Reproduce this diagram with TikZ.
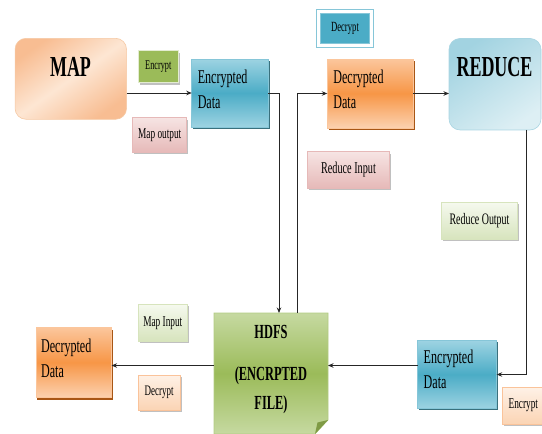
\documentclass[tikz,border=0pt]{standalone}
\usepackage{fontspec}
\setmainfont{Liberation Serif}[FakeStretch=0.62]
\usetikzlibrary{arrows.meta,shadows,backgrounds,calc}

% palette
\definecolor{blueMid}{HTML}{4BACC6}
\definecolor{blueLt}{HTML}{9DD3E2}
\definecolor{blueEdge}{HTML}{86C6D8}
\definecolor{blueDark}{HTML}{24606F}
\definecolor{orgMid}{HTML}{F79646}
\definecolor{orgLt}{HTML}{FBC69C}
\definecolor{orgDark}{HTML}{A34D08}
\definecolor{mapA}{HTML}{F8BD92}
\definecolor{mapB}{HTML}{FDE6D3}
\definecolor{mapEdge}{HTML}{F6C9A4}
\definecolor{redA}{HTML}{A2D3E1}
\definecolor{redB}{HTML}{DDEFF4}
\definecolor{redEdge}{HTML}{A9D5E2}
\definecolor{grnMid}{HTML}{9BBB59}
\definecolor{grnLt}{HTML}{C6D9A1}
\definecolor{grnEdge}{HTML}{B2CB82}
\definecolor{grnFold}{HTML}{7F9A45}
\definecolor{pinkTop}{HTML}{F6E4E3}
\definecolor{pinkBot}{HTML}{E6B9B8}
\definecolor{lgTop}{HTML}{F5F9EE}
\definecolor{lgBot}{HTML}{D7E4BD}
\definecolor{pchTop}{HTML}{FEF1E6}
\definecolor{pchBot}{HTML}{FBD4B4}
\definecolor{pchEdge}{HTML}{FAC39A}
\definecolor{lineClr}{HTML}{262626}

\begin{document}
\begin{tikzpicture}[x=1pt,y=-1pt,
  every node/.style={inner sep=0pt, outer sep=0pt, text=black},
  softshadow/.style={drop shadow={shadow xshift=1.6pt,shadow yshift=-1.8pt,fill=black!45,opacity=.55}},
  mapbox/.style={rectangle, rounded corners=11pt, draw=mapEdge, line width=.6pt,
    top color=mapA, bottom color=mapA, middle color=mapB, shading angle=35},
  redbox/.style={rectangle, rounded corners=11pt, draw=redEdge, line width=.6pt,
    top color=redA, bottom color=redB, shading angle=35},
  bluebox/.style={rectangle, draw=blueEdge, line width=.6pt,
    top color=blueLt, bottom color=blueLt, middle color=blueMid,
    drop shadow={shadow xshift=1.5pt,shadow yshift=-1.8pt,fill=blueDark,opacity=.9}},
  orgbox/.style={rectangle, draw=orgLt, line width=.6pt,
    top color=orgLt, bottom color=orgLt!80, middle color=orgMid,
    drop shadow={shadow xshift=1.2pt,shadow yshift=-2.2pt,fill=orgDark,opacity=.95}},
  boxtxt/.style={anchor=base west, font=\fontsize{19.5}{24}\selectfont},
  bigtitle/.style={anchor=base, font=\bfseries\fontsize{29}{32}\selectfont},
  hdfstxt/.style={anchor=base, font=\bfseries\fontsize{20}{24}\selectfont},
  tag/.style={rectangle, line width=.6pt, softshadow},
  pinktag/.style={tag, draw=pinkBot, top color=pinkTop, bottom color=pinkBot},
  greentag/.style={tag, draw=lgBot, top color=lgTop, bottom color=lgBot},
  peachtag/.style={tag, draw=pchEdge, top color=pchTop, bottom color=pchBot},
  arr/.style={draw=lineClr, line width=.85pt, -{Stealth[length=5.5pt,width=4.5pt]}}
]
\useasboundingbox (0,0) rectangle (542,434);

% ---- main blocks ----
\node[mapbox, minimum width=111.5pt, minimum height=81pt] (map) at (70.8,78.8) {};
\node[bigtitle] (maptitle) at (70.5,76) {MAP};

\node[bluebox, minimum width=76.5pt, minimum height=68pt] (enc1) at (230,93) {};
\node[boxtxt] (enc1a) at ([xshift=6pt,yshift=-24pt]enc1.north west) {Encrypted};
\node[boxtxt] (enc1b) at ([xshift=6pt,yshift=-49pt]enc1.north west) {Data};

\node[orgbox, minimum width=86pt, minimum height=69pt] (dec1) at (370.3,93.5) {};
\node[boxtxt] (dec1a) at ([xshift=6pt,yshift=-24pt]dec1.north west) {Decrypted};
\node[boxtxt] (dec1b) at ([xshift=6pt,yshift=-49pt]dec1.north west) {Data};

\node[redbox, minimum width=92pt, minimum height=91.5pt] (reduce) at (495,84.2) {};
\node[bigtitle] (redtitle) at (494.5,76) {REDUCE};

\node[bluebox, minimum width=79pt, minimum height=68pt] (enc2) at (457.2,374.5) {};
\node[boxtxt] (enc2a) at ([xshift=6pt,yshift=-23pt]enc2.north west) {Encrypted};
\node[boxtxt] (enc2b) at ([xshift=6pt,yshift=-48pt]enc2.north west) {Data};

\node[orgbox, minimum width=75.5pt, minimum height=70pt] (dec2) at (73.8,362.5) {};
\node[boxtxt] (dec2a) at ([xshift=5pt,yshift=-24.5pt]dec2.north west) {Decrypted};
\node[boxtxt] (dec2b) at ([xshift=5pt,yshift=-50pt]dec2.north west) {Data};

% HDFS sheet with a folded corner
\node[rectangle, minimum width=114pt, minimum height=121pt] (hdfs) at (271,373.5) {};
\begin{scope}[on background layer]
  \shade[top color=grnLt, bottom color=grnLt, middle color=grnMid, draw=grnEdge, line width=.6pt]
    (hdfs.north west) -- (hdfs.north east) -- ([yshift=14pt]hdfs.south east)
    -- ([xshift=-13pt]hdfs.south east) -- (hdfs.south west) -- cycle;
  \fill[grnFold] ([yshift=14pt]hdfs.south east) -- ([xshift=-13pt]hdfs.south east)
    -- ([xshift=-10.5pt,yshift=11.5pt]hdfs.south east) -- cycle;
\end{scope}
\node[hdfstxt] (hdfsA) at (271,338.3) {HDFS};
\node[hdfstxt] (hdfsB) at (271,380) {(ENCRPTED};
\node[hdfstxt] (hdfsC) at (271,409.3) {FILE)};

% ---- small tags ----
\node[tag, fill=grnMid, draw=lgBot!70, line width=1.2pt, minimum width=40pt, minimum height=32pt,
      font=\fontsize{13.3}{15}\selectfont] (encT) at (158.3,66.7) {Encrypt};
\node[pinktag, minimum width=54pt, minimum height=34.5pt,
      font=\fontsize{15}{17}\selectfont] (mapout) at (159.7,135) {Map output};
\node[rectangle, fill=blueMid, draw=blueEdge, line width=1.3pt, double=white, double distance=2.4pt,
      minimum width=53pt, minimum height=34pt,
      font=\fontsize{14}{16}\selectfont] (decT) at (345,28.5) {Decrypt};
\node[pinktag, minimum width=81.5pt, minimum height=36.5pt,
      font=\fontsize{16.5}{18}\selectfont] (redin) at (348.5,170) {Reduce Input};
\node[greentag, minimum width=75.5pt, minimum height=37pt,
      font=\fontsize{16}{18}\selectfont] (redout) at (479.5,220.8) {Reduce Output};
\node[greentag, minimum width=49pt, minimum height=36.5pt,
      font=\fontsize{15}{17}\selectfont] (mapin) at (162.8,322.7) {Map Input};
\node[peachtag, minimum width=41.5pt, minimum height=35pt,
      font=\fontsize{14.5}{16}\selectfont] (decB) at (159.2,392.5) {Decrypt};
\node[peachtag, minimum width=42pt, minimum height=36.5pt,
      font=\fontsize{15}{17}\selectfont] (encB) at (523.3,405.7) {Encrypt};

% ---- connectors ----
\draw[arr] (map.east |- enc1.west) -- (enc1.west);
\draw[arr] (enc1.east) -| ([xshift=8pt]hdfs.north);
\draw[arr] ([xshift=26pt]hdfs.north) |- (dec1.west);
\draw[arr] (dec1.east) -- (dec1.east -| reduce.west);
\draw[arr] ([xshift=31pt]reduce.south) |- (enc2.east);
\draw[arr] ([yshift=9pt]enc2.west) -- ([yshift=9pt]enc2.west -| hdfs.east);
\draw[arr] ([yshift=8pt]hdfs.west) -- ([yshift=8pt]hdfs.west -| dec2.east);
\end{tikzpicture}
\end{document}
